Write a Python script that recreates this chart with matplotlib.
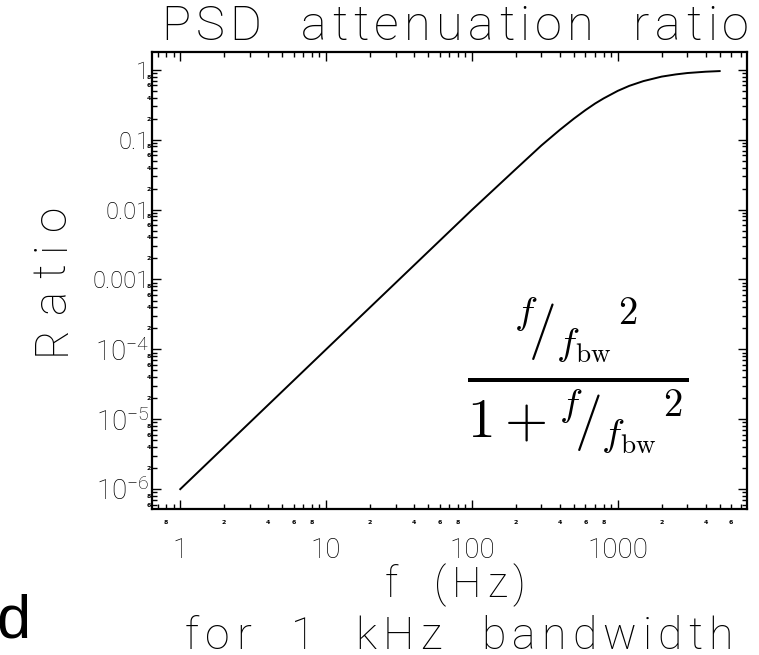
import numpy as np
import matplotlib
matplotlib.use('Agg')
import matplotlib.pyplot as plt
from matplotlib.ticker import FixedLocator, FixedFormatter
from matplotlib.font_manager import FontProperties, findfont, get_font

# values
freq = [1, 10, 100, 200, 300, 400, 500, 600, 700, 800, 1000, 1200, 1500,
        2000, 2500, 3000, 4000, 5000]
ratio = [1e-6, 1e-4, 0.0099, 0.038, 0.083, 0.138, 0.2, 0.265, 0.33, 0.39,
         0.5, 0.59, 0.69, 0.8, 0.86, 0.9, 0.94, 0.96]

x_major = [1, 10, 100, 1000]
x_major_labels = ['1', '10', '100', '1000']
y_major = [1e-6, 1e-5, 1e-4, 1e-3, 1e-2, 1e-1, 1]
y_major_labels = [r'$10^{-6}$', r'$10^{-5}$', r'$10^{-4}$', '0.001', '0.01', '0.1', '1']

W, H = 759, 655
plt.rcParams['font.family'] = ['Roboto', 'DejaVu Sans']
plt.rcParams['font.weight'] = 'light'
plt.rcParams['mathtext.fontset'] = 'custom'
plt.rcParams['mathtext.rm'] = 'Roboto:light'
plt.rcParams['mathtext.it'] = 'Roboto:light'

fig = plt.figure(figsize=(W / 100, H / 100), dpi=100)
ax = fig.add_axes([152 / W, 1 - 509 / H, 595 / W, 457 / H])

ax.plot(freq, ratio, color='black', lw=1.4)
ax.set_xscale('log')
ax.set_yscale('log')
ax.set_xlim(0.64, 7700)
ax.set_ylim(5.2e-7, 1.8)

# minor ticks 2..9 per decade, tiny labels on the even ones
def minor_ticks(lo, hi):
    locs, labs = [], []
    for dec in range(lo, hi):
        for k in range(2, 10):
            locs.append(k * 10.0 ** dec)
            labs.append(str(k) if k % 2 == 0 else '')
    return locs, labs

xm, xml = minor_ticks(-1, 4)
ym, yml = minor_ticks(-7, 0)

ax.xaxis.set_major_locator(FixedLocator(x_major))
ax.xaxis.set_major_formatter(FixedFormatter(x_major_labels))
ax.xaxis.set_minor_locator(FixedLocator(xm))
ax.xaxis.set_minor_formatter(FixedFormatter(xml))
ax.yaxis.set_major_locator(FixedLocator(y_major))
ax.yaxis.set_major_formatter(FixedFormatter(y_major_labels))
ax.yaxis.set_minor_locator(FixedLocator(ym))
ax.yaxis.set_minor_formatter(FixedFormatter(yml))

ax.tick_params(which='both', direction='in', top=True, right=True, width=1.0, color='black')
ax.tick_params(which='major', length=6.5)
ax.tick_params(which='minor', length=3.5)
ax.tick_params(axis='x', which='major', labelsize=20, pad=20)
ax.tick_params(axis='y', which='major', labelsize=20, pad=2)
ax.tick_params(axis='x', which='minor', labelsize=4.5, pad=8)
ax.tick_params(axis='y', which='minor', labelsize=4.5, pad=0.5)
for lab in ax.yaxis.get_majorticklabels():
    if lab.get_text().startswith('0') or lab.get_text() == '1':
        lab.set_fontsize(17)
for lab in ax.get_xminorticklabels() + ax.get_yminorticklabels():
    lab.set_fontweight('bold')
    lab.set_family('DejaVu Sans')
for sp in ax.spines.values():
    sp.set_linewidth(1.6)


# wide-tracked text, like the plotting package's vector font
def spaced_text(s, cx, base, size, width, vertical=False):
    fp = FontProperties(family='Roboto', weight='light', size=size)
    font = get_font(findfont(fp))
    font.set_size(size, 100)
    adv = [font.load_char(ord(c)).linearHoriAdvance / 65536 for c in s]
    gap = (width - sum(adv)) / (len(s) - 1)
    pos = -width / 2
    for c, a in zip(s, adv):
        mid = pos + a / 2
        if vertical:
            x, y = base, cx - mid
        else:
            x, y = cx + mid, base
        fig.text(x / W, 1 - y / H, c, fontproperties=fp, ha='center',
                 va='baseline', rotation=90 if vertical else 0,
                 rotation_mode='anchor')
        pos += a + gap


spaced_text('PSD  attenuation  ratio', 455, 40, 35, 588)
spaced_text('Ratio', 280, 65, 33, 150, vertical=True)
spaced_text('f  (Hz)', 455, 597, 30, 140)
spaced_text('for  1  kHz  bandwidth', 459, 649, 32, 548)

ax.text(0.715, 0.292,
        r'$\frac{{}^{f}\!/_{f_{\mathrm{bw}}}{}^{2}}{1+{}^{f}\!/_{f_{\mathrm{bw}}}{}^{2}}$',
        transform=ax.transAxes, fontsize=57, ha='center', va='center',
        math_fontfamily='cm')

fig.text(-4 / W, 1 - 638 / H, 'd', fontsize=44, family='Liberation Sans',
         weight='normal', ha='left', va='baseline')

fig.savefig('out.png', dpi=100)
